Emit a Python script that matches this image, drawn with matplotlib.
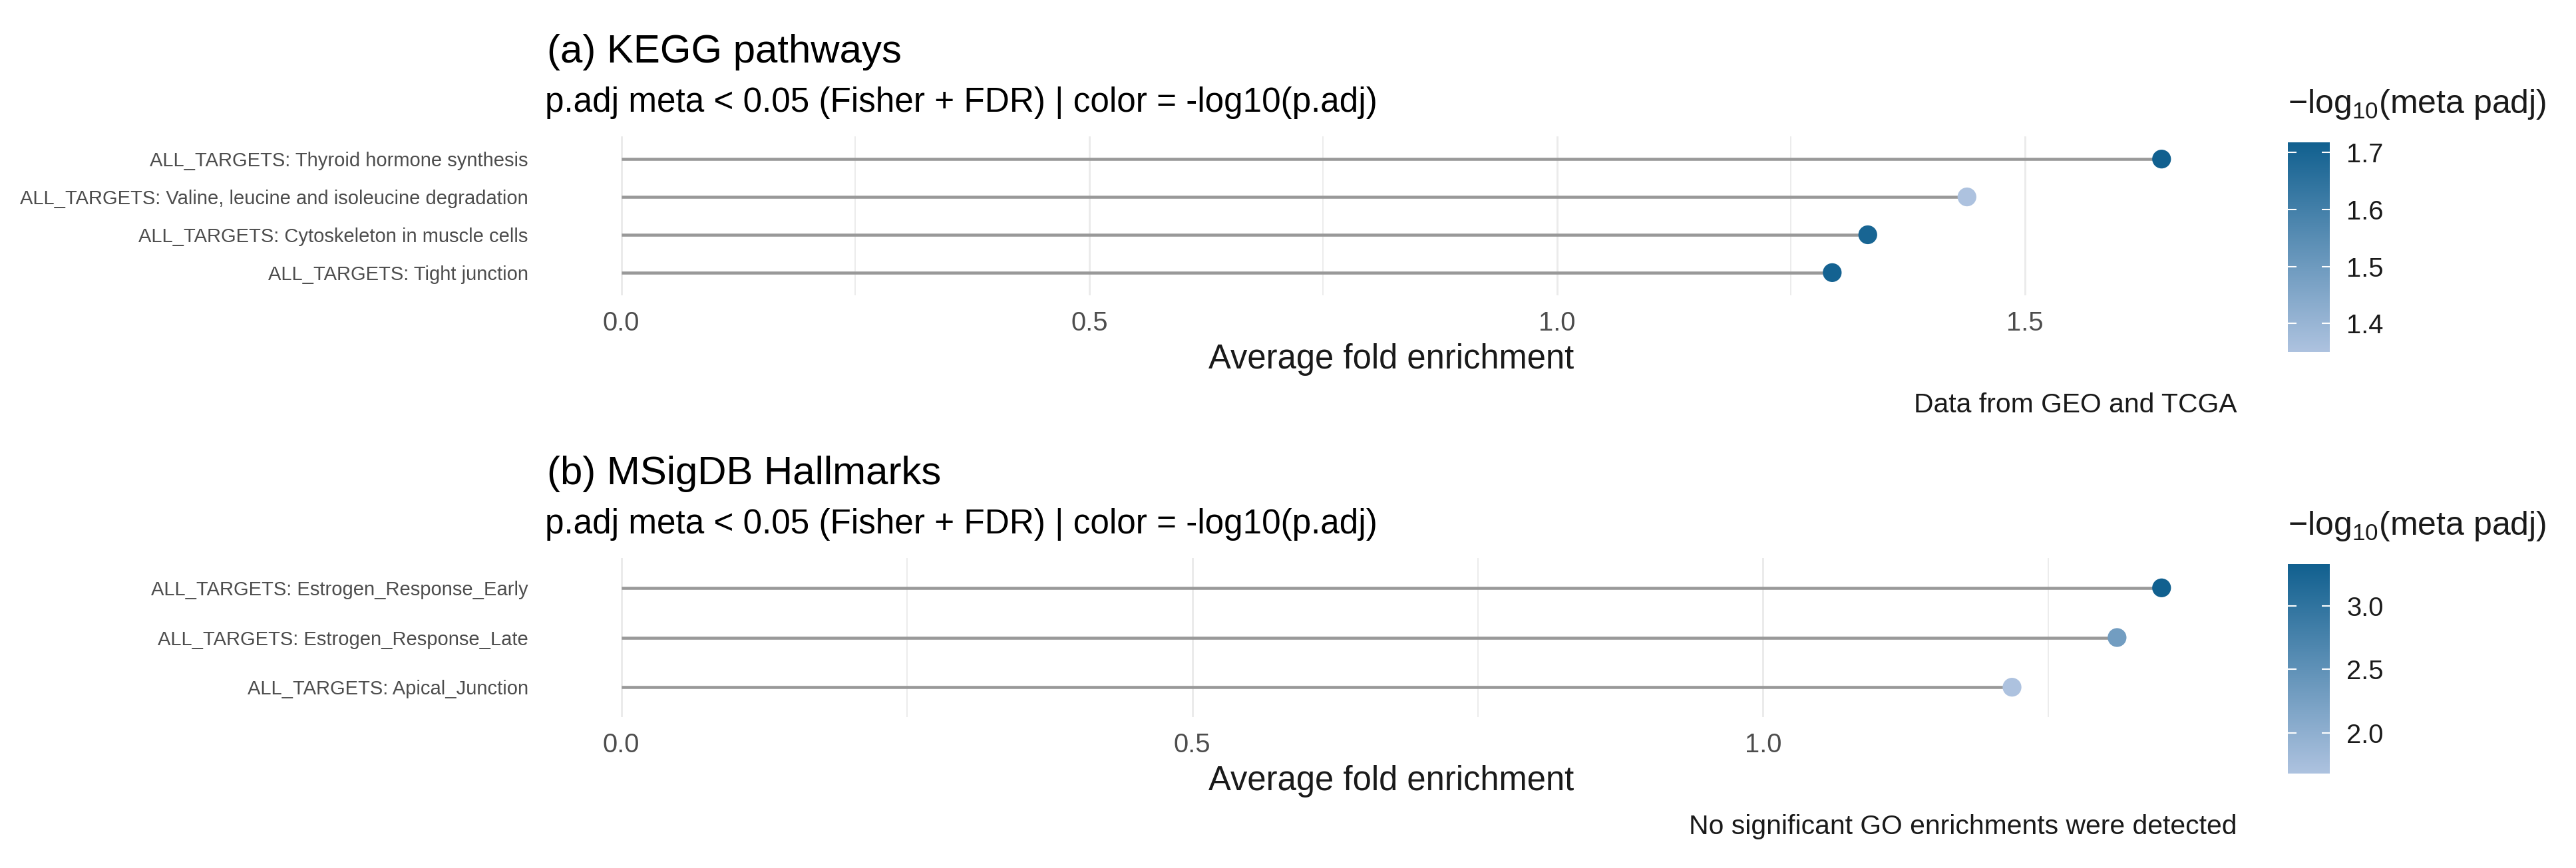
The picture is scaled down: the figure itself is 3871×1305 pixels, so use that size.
import numpy as np
import matplotlib
matplotlib.use("Agg")
import matplotlib.pyplot as plt
from matplotlib.colors import LinearSegmentedColormap, Normalize

plt.rcParams['font.family'] = ['Liberation Sans', 'DejaVu Sans']
plt.rcParams['mathtext.fontset'] = 'custom'
plt.rcParams['mathtext.rm'] = 'Liberation Sans'
plt.rcParams['mathtext.it'] = 'Liberation Sans'

# data
kegg_terms = ["ALL_TARGETS: Thyroid hormone synthesis",
              "ALL_TARGETS: Valine, leucine and isoleucine degradation",
              "ALL_TARGETS: Cytoskeleton in muscle cells",
              "ALL_TARGETS: Tight junction"]
kegg_fold = [1.646, 1.438, 1.332, 1.294]
kegg_score = [1.718, 1.35, 1.70, 1.71]
kegg_ticks = [1.4, 1.5, 1.6, 1.7]

hall_terms = ["ALL_TARGETS: Estrogen_Response_Early",
              "ALL_TARGETS: Estrogen_Response_Late",
              "ALL_TARGETS: Apical_Junction"]
hall_fold = [1.349, 1.310, 1.218]
hall_score = [3.33, 2.3, 1.68]
hall_ticks = [2.0, 2.5, 3.0]

subtitle = "p.adj meta < 0.05 (Fisher + FDR) | color = -log10(p.adj)"
legend_title = r"$-\mathrm{log}_{10}$(meta padj)"

W, H = 3871, 1305
DPI = 300
fig = plt.figure(figsize=(W / DPI, H / DPI), dpi=DPI)
cmap = LinearSegmentedColormap.from_list("blues", ["#adc2df", "#11608f"])


def box(x0, y0, x1, y1):
    # pixel box (top-left origin) -> figure fraction
    return [x0 / W, 1 - y1 / H, (x1 - x0) / W, (y1 - y0) / H]


def ftext(x, y, s, **kw):
    fig.text(x / W, 1 - y / H, s, **kw)


def draw_panel(terms, fold, score, ticks, top, title, caption):
    off = top - 205
    ax = fig.add_axes(box(818, top, 3364, top + 239))
    n = len(terms)
    ypos = np.arange(n, 0, -1)
    xmax = max(fold)
    ax.set_xlim(-0.05 * xmax, 1.05 * xmax)
    ax.set_ylim(0.4, n + 0.6)

    # grid like theme_minimal, vertical only
    for g in np.arange(0, xmax * 1.05, 0.5):
        ax.axvline(g, color="#ebebeb", lw=0.7, zorder=0)
    for g in np.arange(0.25, xmax * 1.05, 0.5):
        ax.axvline(g, color="#ebebeb", lw=0.45, zorder=0)

    norm = Normalize(vmin=min(score), vmax=max(score))
    ax.hlines(ypos, 0, fold, color="#999999", lw=1.1, zorder=2)
    sc = ax.scatter(fold, ypos, c=score, cmap=cmap, norm=norm, s=46,
                    linewidths=0, zorder=3)

    ax.set_xticks(np.arange(0, xmax * 1.05, 0.5))
    ax.set_xticklabels([f"{v:.1f}" for v in np.arange(0, xmax * 1.05, 0.5)])
    ax.set_yticks(ypos)
    ax.set_yticklabels(terms)
    ax.tick_params(axis="x", length=0, pad=5.5, labelsize=9.6, labelcolor="#4d4d4d")
    ax.tick_params(axis="y", length=0, pad=5.8, labelsize=7, labelcolor="#4d4d4d")
    for sp in ax.spines.values():
        sp.set_visible(False)

    ftext(822, 94 + off, title, fontsize=14.4, va="baseline", ha="left")
    ftext(819, 168 + off, subtitle, fontsize=12.3, va="baseline", ha="left")
    ftext(2091, 554 + off, "Average fold enrichment", fontsize=12.2,
          va="baseline", ha="center", color="#1a1a1a")
    ftext(3361, 620 + off, caption, fontsize=9.8, va="baseline", ha="right",
          color="#1a1a1a")

    # colour bar legend
    cax = fig.add_axes(box(3438, 214 + off, 3501, 529 + off))
    cb = fig.colorbar(sc, cax=cax, ticks=ticks)
    cb.outline.set_visible(False)
    cb.ax.set_yticklabels([f"{t:.1f}" for t in ticks])
    cax.tick_params(axis="y", direction="in", length=3, width=0.5, color="white",
                    left=True, right=True, pad=6, labelsize=9.6, labelcolor="#1a1a1a")
    ftext(3438, 170 + off, legend_title, fontsize=12, va="baseline", ha="left",
          color="#1a1a1a")
    return ax


draw_panel(kegg_terms, kegg_fold, kegg_score, kegg_ticks, 205,
           "(a) KEGG pathways", "Data from GEO and TCGA")
draw_panel(hall_terms, hall_fold, hall_score, hall_ticks, 839,
           "(b) MSigDB Hallmarks", "No significant GO enrichments were detected")

fig.savefig("out.png", dpi=DPI)
